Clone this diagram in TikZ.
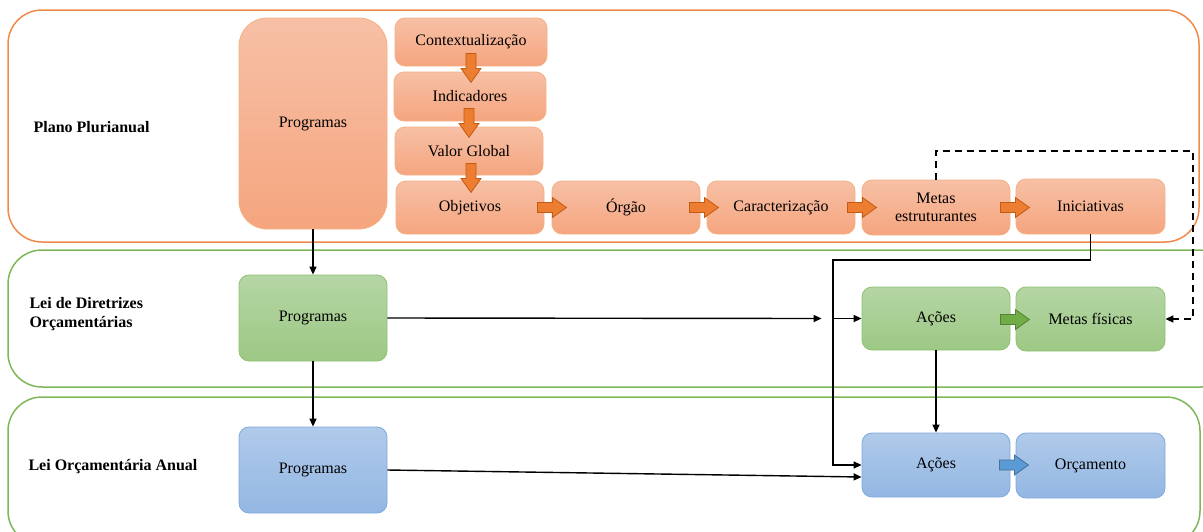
\documentclass[tikz,border=0pt]{standalone}
\usepackage{fontspec}
\setmainfont{Liberation Serif}
\usetikzlibrary{arrows.meta,calc}

\definecolor{orline}{HTML}{F08A4B}
\definecolor{grline}{HTML}{7DB758}
\definecolor{ortop}{HTML}{F7C0A6}
\definecolor{orbot}{HTML}{F5A57E}
\definecolor{orbd}{HTML}{F4B183}
\definecolor{grtop}{HTML}{B5D6A5}
\definecolor{grbot}{HTML}{9DC884}
\definecolor{grbd}{HTML}{8EC171}
\definecolor{bltop}{HTML}{B0CAEA}
\definecolor{blbot}{HTML}{93B7E3}
\definecolor{blbd}{HTML}{7DA9DC}
\definecolor{orarr}{HTML}{ED7D31}
\definecolor{orarrbd}{HTML}{C55A11}
\definecolor{grarr}{HTML}{70AD47}
\definecolor{grarrbd}{HTML}{548235}
\definecolor{blarr}{HTML}{5B9BD5}
\definecolor{blarrbd}{HTML}{41719C}

\tikzset{
  box/.style={rectangle, rounded corners=10pt, minimum width=148pt, minimum height=53pt,
    align=center, inner sep=2pt, line width=0.8pt, font=\fontsize{16}{18}\selectfont},
  orbox/.style={box, draw=orbd, top color=ortop, bottom color=orbot},
  grbox/.style={box, draw=grbd, top color=grtop, bottom color=grbot},
  blbox/.style={box, draw=blbd, top color=bltop, bottom color=blbot},
  lane/.style={rounded corners=34pt, line width=1.5pt},
  lanelabel/.style={anchor=west, align=left, font=\fontsize{16}{19}\selectfont\bfseries},
  link/.style={line width=1.4pt, -{Triangle[length=8pt,width=7pt]}}
}

% fat arrow: #1 start point, #2 angle, #3 fill, #4 border
\newcommand{\fatarrow}[4]{%
  \filldraw[fill=#3, draw=#4, line width=0.8pt, shift={#1}, rotate=#2]
    (0,-5) -- (15,-5) -- (15,-10) -- (29,0) -- (15,10) -- (15,5) -- (0,5) -- cycle;}

\begin{document}
\begin{tikzpicture}[x=1pt, y=-1pt]
  \useasboundingbox (0,0) rectangle (1203,531);

  % lanes
  \draw[lane, draw=orline] (8,10) rectangle (1199,242);
  \draw[lane, draw=grline] (8,250) rectangle (1235,387);
  \draw[lane, draw=grline] (8,397) rectangle (1200,545);

  \node[lanelabel] (ppa) at (30,127) {Plano Plurianual};
  \node[lanelabel] (ldo) at (26,314) {Lei de Diretrizes\\Orçamentárias};
  \node[lanelabel] (loa) at (25,467) {Lei Orçamentária Anual};

  % Plano Plurianual
  \node[orbox, minimum height=211pt, rounded corners=28pt] (ppaprog) at (313,123.5) {Programas};
  \node[orbox, minimum width=152pt, minimum height=48pt] (ctx) at (471,42) {Contextualização};
  \node[orbox, minimum width=152pt, minimum height=49pt] (ind) at (470,96.5) {Indicadores};
  \node[orbox, minimum height=48pt] (val) at (469,151) {Valor Global};
  \node[orbox] (obj) at (470,207.5) {Objetivos};
  \node[orbox] (org) at (626,207.5) {Órgão};
  \node[orbox] (car) at (781,207.5) {Caracterização};
  \node[orbox, minimum height=55pt] (met) at (936,207.5) {Metas\\estruturantes};
  \node[orbox, minimum width=149pt, minimum height=55pt] (ini) at (1090.5,206.5) {Iniciativas};

  % Lei de Diretrizes Orcamentarias
  \node[grbox, minimum height=86pt] (ldoprog) at (313,318) {Programas};
  \node[grbox, minimum height=63pt] (ldoacoes) at (936,318.5) {Ações};
  \node[grbox, minimum width=149pt, minimum height=64pt] (metfis) at (1090.5,319) {Metas físicas};

  % Lei Orcamentaria Anual
  \node[blbox, minimum height=86pt] (loaprog) at (313,470) {Programas};
  \node[blbox, minimum height=64pt] (loaacoes) at (936,465) {Ações};
  \node[blbox, minimum width=149pt, minimum height=65pt] (orc) at (1090.5,465.5) {Orçamento};

  % fat arrows
  \fatarrow{($(ctx.south)+(0,-13)$)}{-90}{orarr}{orarrbd}
  \fatarrow{($(ind.south)+(-1,-13)$)}{-90}{orarr}{orarrbd}
  \fatarrow{($(val.south)+(2,-12)$)}{-90}{orarr}{orarrbd}
  \fatarrow{($(obj.east)+(-7,0)$)}{0}{orarr}{orarrbd}
  \fatarrow{($(org.east)+(-11,0)$)}{0}{orarr}{orarrbd}
  \fatarrow{($(car.east)+(-8,0)$)}{0}{orarr}{orarrbd}
  \fatarrow{($(met.east)+(-10,0)$)}{0}{orarr}{orarrbd}
  \fatarrow{($(ldoacoes.east)+(-10,1)$)}{0}{grarr}{grarrbd}
  \fatarrow{($(loaacoes.east)+(-11,0)$)}{0}{blarr}{blarrbd}

  % connectors
  \coordinate (bus) at (833,260);
  \coordinate (dashtop) at (1193,151);
  \draw[link] (ppaprog.south) -- (ldoprog.north);
  \draw[link] (ldoprog.east) -- ($(ldoacoes.west)+(-40,0)$);
  \draw[link] (ldoprog.south) -- (loaprog.north);
  \draw[link] (loaprog.east) -- ($(loaacoes.west)+(0,12)$);
  \draw[link] (ini.south) |- (bus) |- (loaacoes.west);
  \draw[link] (bus |- ldoacoes.west) -- (ldoacoes.west);
  \draw[link] (ldoacoes.south) -- (loaacoes.north);
  \draw[link, dash pattern=on 7pt off 5pt] (met.north) |- (dashtop) |- (metfis.east);
\end{tikzpicture}
\end{document}
